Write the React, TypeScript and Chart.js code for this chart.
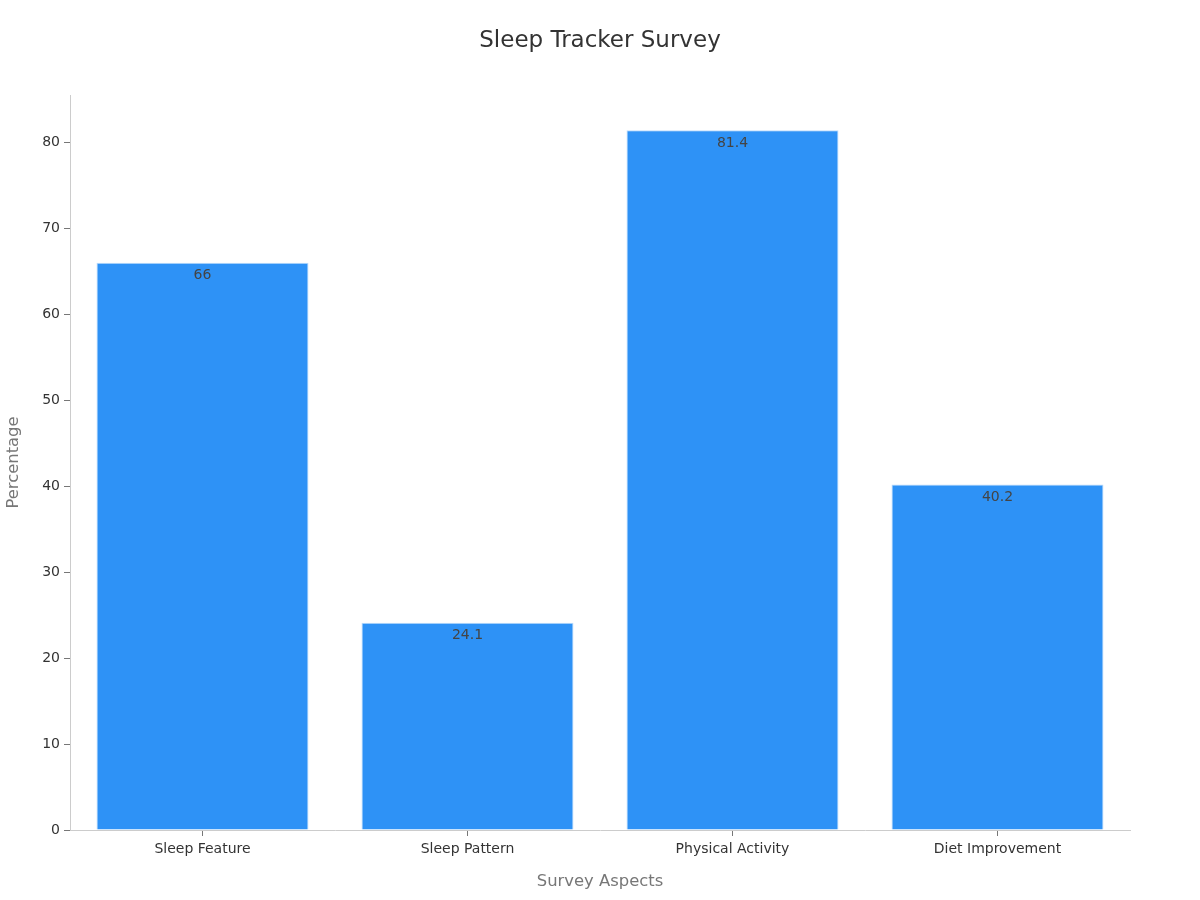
import React, { useEffect, useRef } from "react";
import { Chart, registerables } from "chart.js";

Chart.register(...registerables);

const categories = ["Sleep Feature", "Sleep Pattern", "Physical Activity", "Diet Improvement"];
const percentages = [66, 24.1, 81.4, 40.2];
const yTicks = [0, 10, 20, 30, 40, 50, 60, 70, 80];
const chartTitle = "Sleep Tracker Survey";
const xTitle = "Survey Aspects";
const yTitle = "Percentage";

const FONT = "'DejaVu Sans', sans-serif";

const valueLabels = {
  id: "valueLabels",
  afterDatasetsDraw(chart: any) {
    const ctx = chart.ctx;
    const meta = chart.getDatasetMeta(0);
    ctx.save();
    ctx.font = `14px ${FONT}`;
    ctx.fillStyle = "#444";
    ctx.textAlign = "center";
    ctx.textBaseline = "middle";
    meta.data.forEach((bar: any, i: number) => {
      ctx.fillText(String(percentages[i]), bar.x, bar.y + 13);
    });
    ctx.restore();
  },
};

const pageTitle = {
  id: "pageTitle",
  afterDraw(chart: any) {
    const ctx = chart.ctx;
    ctx.save();
    ctx.font = `23px ${FONT}`;
    ctx.fillStyle = "#333";
    ctx.textAlign = "center";
    ctx.textBaseline = "middle";
    ctx.fillText(chartTitle, chart.width / 2, 41);
    ctx.restore();
  },
};

export default function App() {
  const ref = useRef<HTMLCanvasElement | null>(null);
  useEffect(() => {
    document.body.style.margin = "0";
    if (!ref.current) return;
    const chart = new Chart(ref.current, {
      type: "bar",
      data: {
        labels: categories,
        datasets: [
          {
            data: percentages,
            backgroundColor: "#2E92F6",
            borderColor: "#bcdcfc",
            borderWidth: 1,
            barPercentage: 0.8,
            categoryPercentage: 1,
          },
        ],
      },
      options: {
        animation: false,
        responsive: true,
        maintainAspectRatio: false,
        layout: { padding: { left: 0, right: 70, top: 95, bottom: 0 } },
        plugins: {
          legend: { display: false },
          tooltip: { enabled: false },
          title: { display: false },
        },
        scales: {
          x: {
            grid: {
              display: true,
              offset: false,
              drawOnChartArea: false,
              drawTicks: true,
              tickLength: 6,
              color: "#777",
            },
            border: { display: true, color: "#ccc" },
            ticks: { color: "#333", font: { family: FONT, size: 14 }, padding: 5 },
            title: {
              display: true,
              text: xTitle,
              color: "#777",
              font: { family: FONT, size: 16.4 },
              padding: { top: 4, bottom: 8 },
            },
            afterFit(scale: any) {
              scale.height = 70;
            },
          },
          y: {
            min: 0,
            max: 85.5,
            grid: { display: true, drawOnChartArea: false, drawTicks: true, tickLength: 6, color: "#777" },
            border: { display: true, color: "#ccc" },
            ticks: { stepSize: 10, color: "#333", font: { family: FONT, size: 14 }, padding: 4 },
            afterBuildTicks(scale: any) {
              scale.ticks = yTicks.map((v) => ({ value: v }));
            },
            title: {
              display: true,
              text: yTitle,
              color: "#777",
              font: { family: FONT, size: 16.4 },
              padding: 4,
            },
            afterFit(scale: any) {
              scale.width = 70;
            },
          },
        },
      },
      plugins: [valueLabels, pageTitle],
    });
    return () => chart.destroy();
  }, []);
  return (
    <div style={{ width: 1200, height: 900, position: "relative" }}>
      <canvas ref={ref} />
    </div>
  );
}
